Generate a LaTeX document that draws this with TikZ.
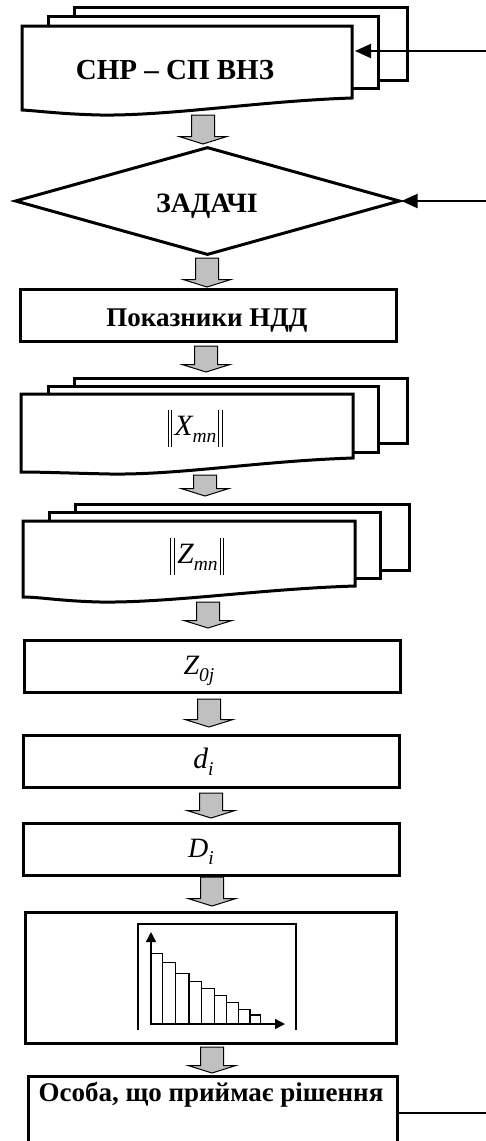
\documentclass[tikz,border=0pt]{standalone}
\usepackage{fontspec}
\setmainfont{Liberation Serif}
\usetikzlibrary{arrows.meta,shapes.geometric}

\definecolor{arrowgray}{RGB}{192,192,192}

% thick gray block arrow: centre x, top y, tip y
\newcommand\bigarrow[3]{%
  \filldraw[fill=arrowgray,draw=black,line width=1pt,line join=miter]
    ({#1-11.5},{#2}) -- ({#1+11.5},{#2}) -- ({#1+11.5},{#3-7.5}) -- ({#1+24},{#3-7.5})
    -- ({#1},{#3}) -- ({#1-24},{#3-7.5}) -- ({#1-11.5},{#3-7.5}) -- cycle;}

\newcommand\msub[2]{#1\raisebox{-0.26em}{\fontsize{19.5}{19.5}\selectfont #2}}
\newcommand\nbar{\rule[-12pt]{0.8pt}{37pt}\hspace{2.4pt}\rule[-12pt]{0.8pt}{37pt}}

\tikzset{
  sheet/.style={draw=black,fill=white,line width=3pt,line join=miter},
  box/.style={draw=black,fill=white,line width=3pt,inner sep=0pt,minimum width=376pt,minimum height=52pt},
  title/.style={anchor=base,inner sep=0pt,font=\fontsize{27}{30}\selectfont\bfseries},
  formula/.style={anchor=base,inner sep=0pt,font=\fontsize{29.5}{32}\selectfont\itshape},
  inarrow/.style={draw=black,line width=2pt,-{Triangle[length=16pt,width=14pt]}},
  plain/.style={draw=black,line width=1.8pt},
  thin/.style={draw=black,line width=1.3pt},
}

\begin{document}
\begin{tikzpicture}[x=1pt,y=-1pt]
\useasboundingbox (0,0) rectangle (486,1141);

% ---- document stack: СНР – СП ВНЗ
\filldraw[sheet] (74,7) rectangle (407,80);
\filldraw[sheet] (48,16) rectangle (378,88);
\filldraw[sheet] (22,26) -- (352,26) -- (352,98)
  .. controls (260,101) and (170,116) .. (100,115)
  .. controls (60,114) and (40,111) .. (22,110) -- cycle;
\node[title,font=\fontsize{29}{32}\selectfont\bfseries] (snr) at (175,79.5) {СНР – СП ВНЗ};
\coordinate (snrIn) at (490,51);
\coordinate (snrEnd) at (355,51);
\draw[inarrow] (snrIn) -- (snrEnd);

\bigarrow{203}{115}{144}

% ---- decision: ЗАДАЧІ
\node[diamond,draw=black,line width=3pt,fill=white,inner sep=0pt,
      minimum width=385pt,minimum height=108pt] (zad) at (207.5,201) {};
\node[title,font=\fontsize{28}{30}\selectfont\bfseries] (zadT) at (207,212) {ЗАДАЧІ};
\coordinate (zadIn) at (490,201);
\draw[inarrow] (zadIn) -- (zad.east);

\bigarrow{207}{258}{287}

% ---- Показники НДД
\node[box] (pok) at (208,315.5) {};
\node[title] (pokT) at (207,326) {Показники НДД};

\bigarrow{206}{346}{372}

% ---- document stack: ||X_mn||
\filldraw[sheet] (74,378) rectangle (407,443);
\filldraw[sheet] (48,386) rectangle (378,452);
\filldraw[sheet] (21,394) -- (353,394) -- (353,458)
  .. controls (260,461) and (180,475) .. (110,474)
  .. controls (65,473) and (40,472) .. (21,472) -- cycle;
\node[formula] (xmn) at (195,435) {\nbar\hspace{3pt}\msub{X}{mn}\hspace{2pt}\nbar};

\bigarrow{205}{475}{496}

% ---- document stack: ||Z_mn||
\filldraw[sheet] (75,504) rectangle (409,570);
\filldraw[sheet] (49,512) rectangle (380,578);
\filldraw[sheet] (23,521) -- (355,521) -- (355,586)
  .. controls (260,589) and (170,603) .. (100,602)
  .. controls (60,601) and (40,597) .. (23,597) -- cycle;
\node[formula] (zmn) at (197,563) {\nbar\hspace{3pt}\msub{Z}{mn}\hspace{2pt}\nbar};

\bigarrow{208}{602}{628}

% ---- Z_0j
\node[box] (z0j) at (212,666) {};
\node[formula,font=\fontsize{28}{30}\selectfont\itshape] (z0jT) at (199,674) {\msub{Z}{0j}};

\bigarrow{209}{699}{727}

% ---- d_i
\node[box] (di) at (211,761) {};
\node[formula] (diT) at (203.5,768) {\msub{d}{i}};

\bigarrow{211}{793}{818}

% ---- D_i
\node[box] (Di) at (211,849) {};
\node[formula,font=\fontsize{28}{30}\selectfont\itshape] (DiT) at (201,857) {\msub{D}{i}};

\bigarrow{212}{877}{906}

% ---- ranking chart
\node[box,minimum width=371pt,minimum height=131pt] (chart) at (210.5,977.5) {};
\draw[thin] (138,1030) -- (138,924) -- (296,924) -- (296,1030);
\foreach \l/\r/\t in {151/162.3/953.3, 162.3/175.7/962.7, 175.7/189/973.3,
                      189/201.7/981.7, 201.7/214.3/988.3, 214.3/226.7/995.7,
                      226.7/238.3/1002.7, 238.3/250/1009.3, 250/260.7/1015}
  \draw[thin,line width=1.5pt] (\l,1024) rectangle (\r,\t);
\draw[plain,line width=1.5pt,-{Triangle[length=10pt,width=10pt]}] (151,1024) -- (151,932);
\draw[plain,line width=1.5pt,-{Triangle[length=10pt,width=10pt]}] (151,1024) -- (285,1024);

\bigarrow{212}{1047}{1073}

% ---- decision maker
\node[box,minimum width=369pt,minimum height=90pt,anchor=north] (osoba) at (212.5,1075) {};
\node[title] (osobaT) at (211,1101.5) {Особа, що приймає рішення};
\coordinate (osobaOut) at (490,1113);
\draw[plain] (osoba.east |- osobaOut) -- (osobaOut);
\end{tikzpicture}
\end{document}
